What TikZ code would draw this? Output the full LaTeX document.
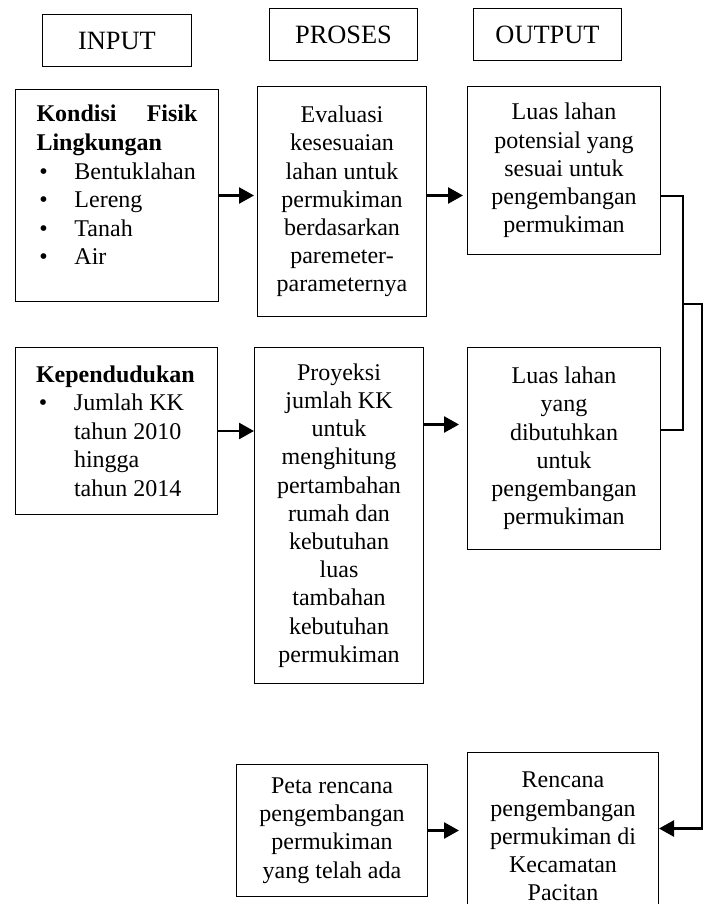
\documentclass[tikz,border=0pt]{standalone}
\usepackage{fontspec}
\setmainfont{Liberation Serif}
\usetikzlibrary{arrows.meta,positioning}
\newcommand{\bulitem}{\hspace*{1.5pt}\makebox[17.5pt][l]{\textbullet}}
\newcommand{\bulcont}{\hspace*{19pt}}
\tikzset{
  hdr/.style={rectangle,draw,line width=0.5pt,anchor=north west,
              minimum height=26pt,font=\fontsize{13.2}{15}\selectfont},
  blk/.style={rectangle,draw,line width=0.5pt,anchor=north west,inner sep=2pt,
              align=center,font=\fontsize{12}{14.1}\selectfont},
  lblk/.style={blk,align=flush left,text width=80.5pt,
               font=\fontsize{12}{14.3}\selectfont},
  arr/.style={-{Triangle[length=7.5pt,width=8pt]},line width=1.3pt},
  lnk/.style={line width=1pt},
}

\begin{document}
\begin{tikzpicture}[x=0.5pt,y=-0.5pt]
  \useasboundingbox (0,0) rectangle (708,904);
  \clip (0,0) rectangle (708,904);

  % column heads
  \node[hdr,minimum width=74.5pt] (hin)  at (42,14)  {INPUT};
  \node[hdr,minimum width=74pt]   (hpro) at (269,8)  {PROSES};
  \node[hdr,minimum width=74pt]   (hout) at (473,8)  {OUTPUT};

  % first row
  \node[lblk,minimum width=101.5pt,minimum height=106pt] (kon) at (15,89)
    {\textbf{Kondisi}\hfill\textbf{Fisik}\\ \textbf{Lingkungan}\\
     \bulitem Bentuklahan\\ \bulitem Lereng\\ \bulitem Tanah\\ \bulitem Air\\[-3.9pt]\mbox{}};
  \node[blk,minimum width=84.5pt,minimum height=115pt] (eva) at (257,86)
    {Evaluasi\\ kesesuaian\\ lahan untuk\\ permukiman\\ berdasarkan\\
     paremeter-\\ parameternya};
  \node[blk,minimum width=96.5pt,minimum height=84pt] (luas1) at (467,86)
    {Luas lahan\\ potensial yang\\ sesuai untuk\\ pengembangan\\ permukiman};

  % second row
  \node[lblk,minimum width=101pt,minimum height=83.5pt] (kep) at (15,347)
    {\textbf{Kependudukan}\\ \bulitem Jumlah KK\\ \bulcont tahun 2010\\
     \bulcont hingga\\ \bulcont tahun 2014};
  \node[blk,minimum width=84.5pt,minimum height=168pt] (pro) at (254,347)
    {Proyeksi\\ jumlah KK\\ untuk\\ menghitung\\ pertambahan\\ rumah dan\\
     kebutuhan\\ luas\\ tambahan\\ kebutuhan\\ permukiman};
  \node[blk,minimum width=96.5pt,minimum height=101pt] (luas2) at (467,347)
    {Luas lahan\\ yang\\ dibutuhkan\\ untuk\\ pengembangan\\ permukiman};

  % last row
  \node[blk,minimum width=95.5pt,minimum height=66pt] (peta) at (236,764)
    {Peta rencana\\ pengembangan\\ permukiman\\ yang telah ada};
  \node[blk,minimum width=95.5pt,minimum height=84pt] (ren) at (467,752)
    {Rencana\\ pengembangan\\ permukiman di\\ Kecamatan\\ Pacitan};

  \coordinate (brk) at (683,304);

  \draw[arr,shorten >=1.5pt] (kon.east) -- (kon.east -| eva.west);
  \draw[arr,shorten >=2pt] (eva.east |- kon.east) -- (luas1.west |- kon.east);
  \draw[arr] (kep.east) -- (kep.east -| pro.west);
  \draw[arr,shorten >=4pt] ([yshift=3.25pt]kep.east -| pro.east)
    -- ([yshift=3.25pt]kep.east -| luas2.west);
  \draw[arr,shorten >=4pt] (peta.east) -- (peta.east -| ren.west);

  \draw[lnk] ([yshift=-12.5pt]luas1.east) -| (brk) |- ([yshift=9.5pt]luas2.east);
  \draw[arr] (brk) -- ++(9.5pt,0) |- ([yshift=4pt]ren.east);
\end{tikzpicture}
\end{document}
